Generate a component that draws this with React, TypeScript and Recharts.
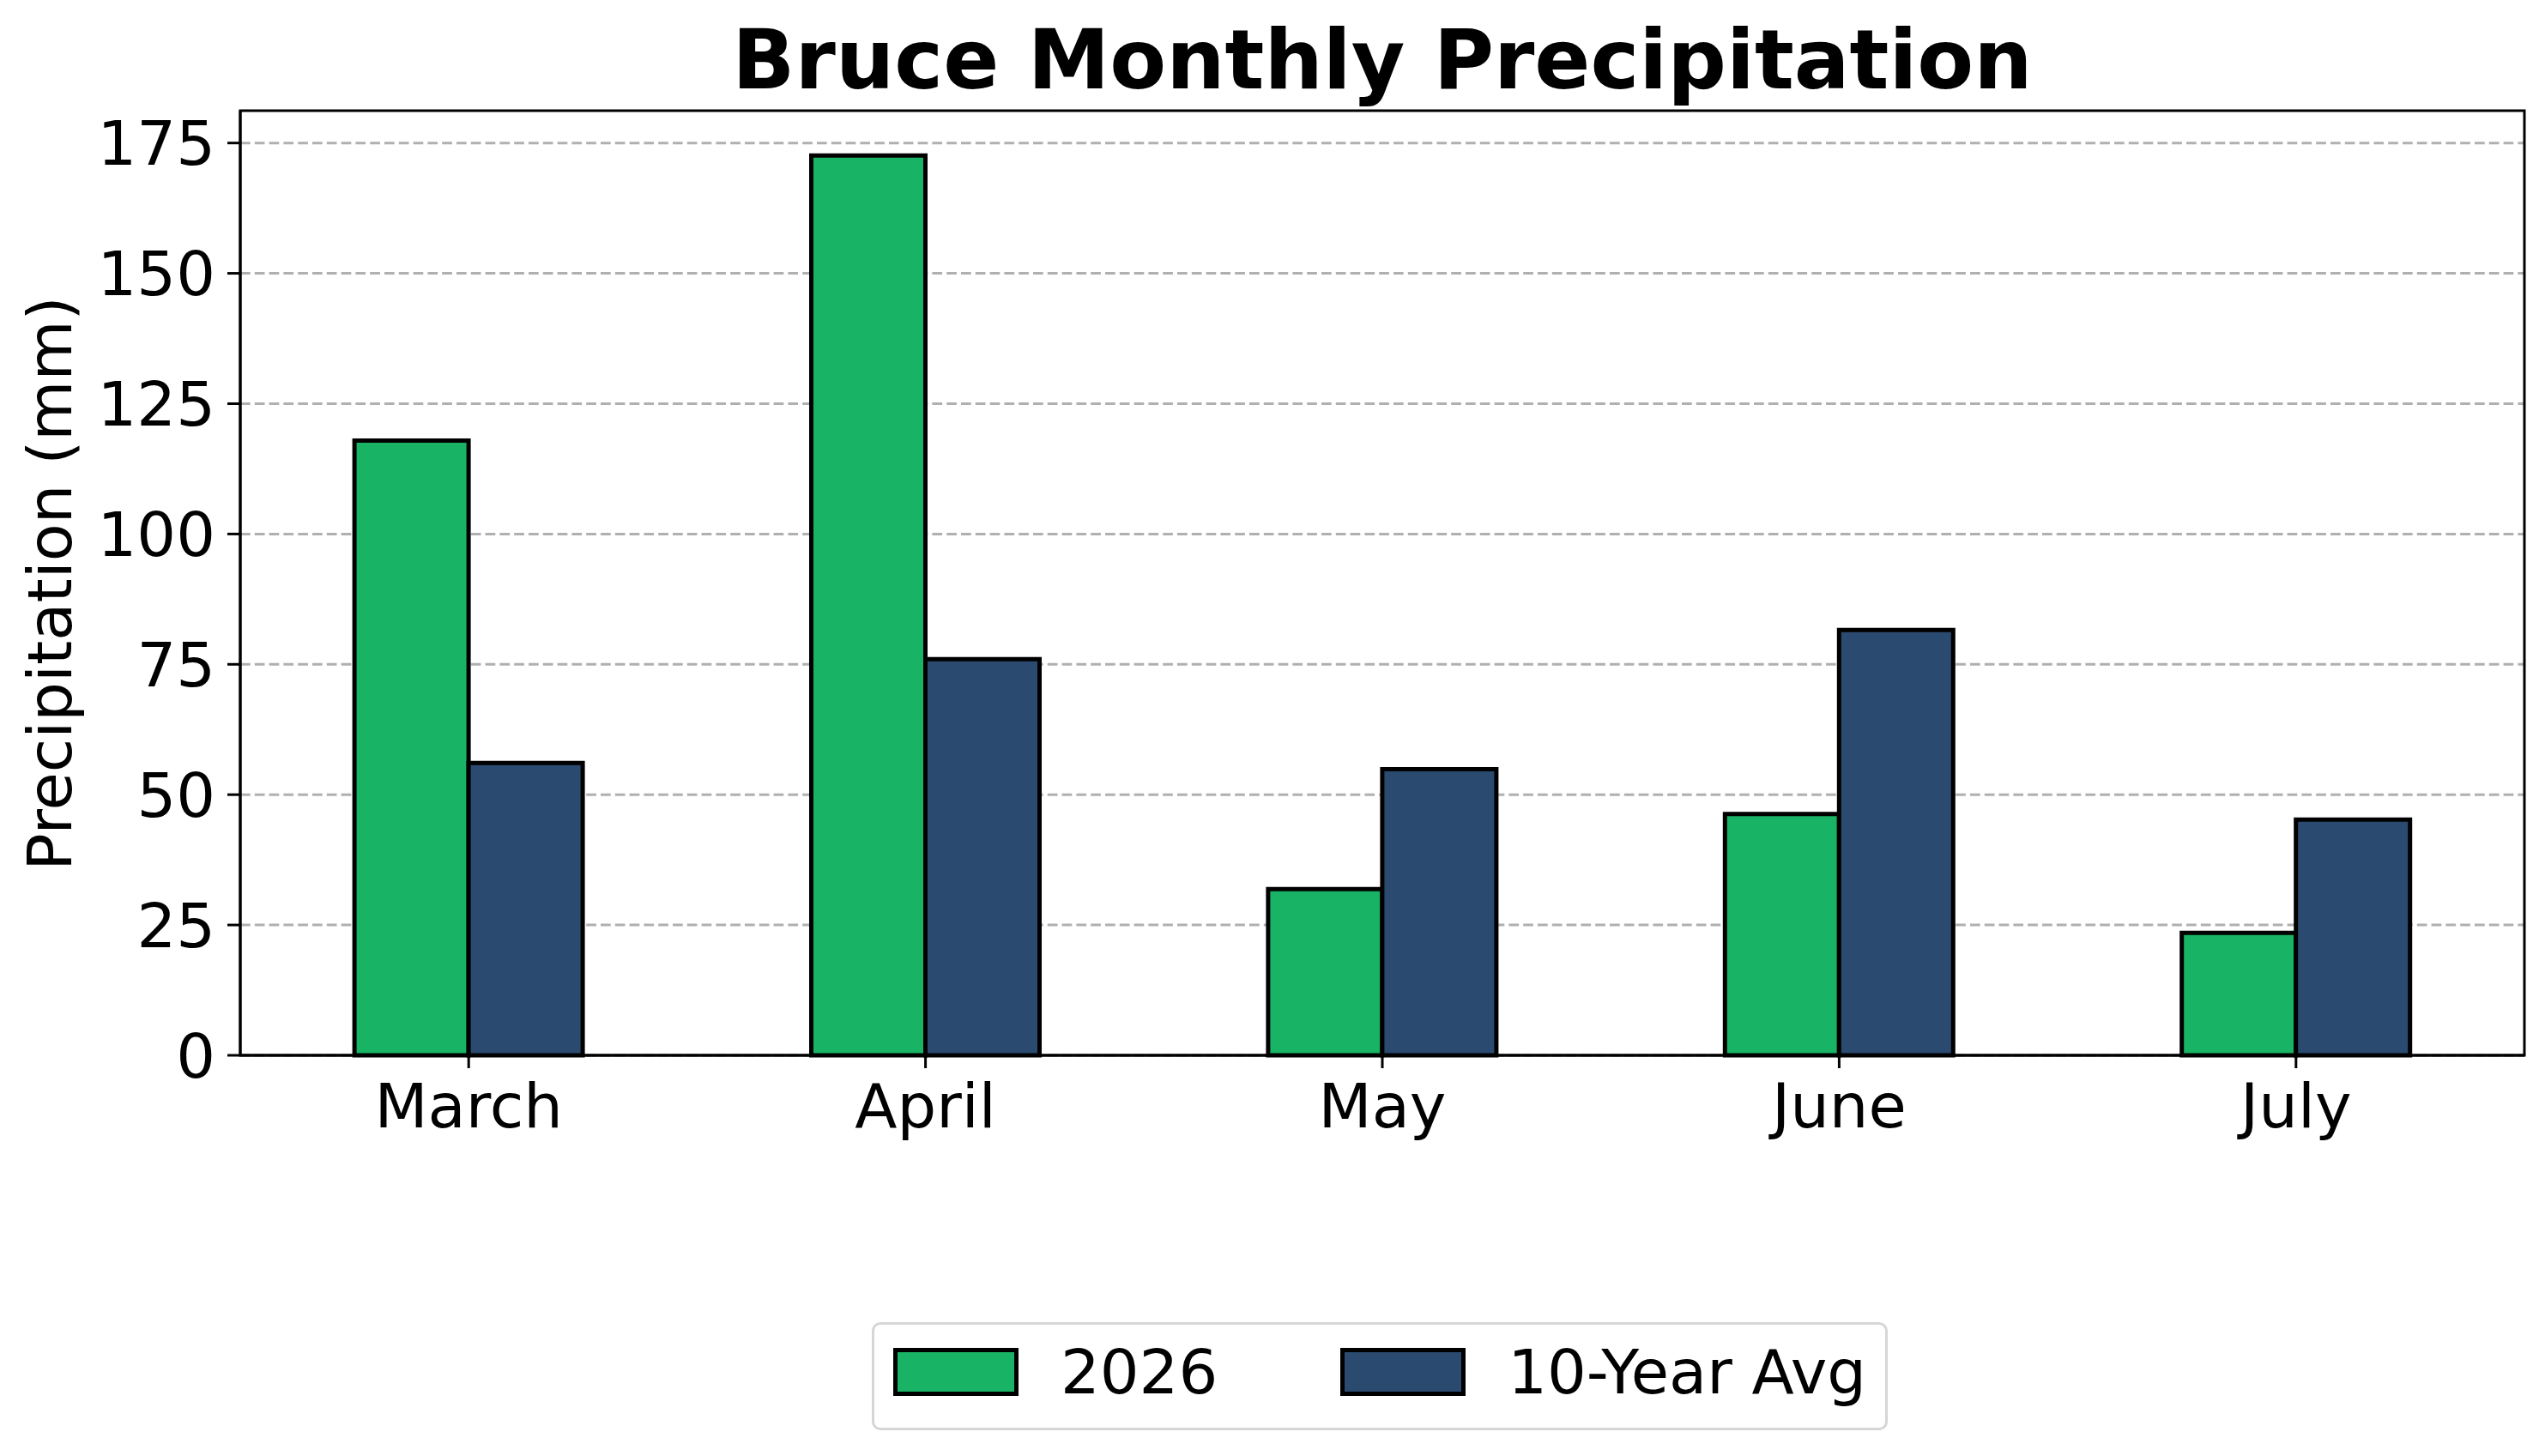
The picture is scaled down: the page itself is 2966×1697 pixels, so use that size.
import React from 'react';
import { BarChart, Bar, XAxis, YAxis, CartesianGrid, Legend, Label, ReferenceArea } from 'recharts';

const months = ['March', 'April', 'May', 'June', 'July'];
const precip2026 = [117.9, 172.6, 31.9, 46.3, 23.5];
const tenYearAvg = [56.1, 76.0, 54.9, 81.6, 45.2];
const seriesNames = ['2026', '10-Year Avg'];
const yTicks = [0, 25, 50, 75, 100, 125, 150, 175];

const data = months.map((month, i) => ({
  month,
  y2026: precip2026[i],
  avg: tenYearAvg[i],
}));

const FONT = '"DejaVu Sans", sans-serif';
const GREEN = '#19b365';
const NAVY = '#2b4a6f';
const W = 2966;
const H = 1697;
const Y_MAX = 181.2;

const LegendBox = ({ payload }: any) => {
  const items = [...(payload || [])].sort(
    (a: any, b: any) => seriesNames.indexOf(a.value) - seriesNames.indexOf(b.value)
  );
  return (
    <div
      style={{
        boxSizing: 'border-box',
        width: 1184,
        height: 126,
        border: '3px solid #d6d6d6',
        borderRadius: 10,
        background: '#fff',
        display: 'flex',
        alignItems: 'flex-start',
        paddingLeft: 22,
        paddingTop: 27,
        fontFamily: FONT,
        fontSize: 72,
        color: '#000',
      }}
    >
      {items.map((entry: any, i: number) => (
        <div key={entry.value} style={{ display: 'flex', alignItems: 'flex-start', marginRight: i === 0 ? 143 : 0 }}>
          <div
            style={{
              boxSizing: 'border-box',
              width: 146,
              height: 56,
              background: entry.color,
              border: '5px solid #000',
            }}
          />
          <span style={{ marginLeft: 49, marginTop: -8, lineHeight: 1, whiteSpace: 'nowrap' }}>{entry.value}</span>
        </div>
      ))}
    </div>
  );
};

const YLabel = () => (
  <text
    x={83}
    y={680}
    transform="rotate(-90 83 680)"
    textAnchor="middle"
    fontFamily={FONT}
    fontSize={72}
    fill="#000"
  >
    Precipitation (mm)
  </text>
);

const spine = { stroke: '#000', strokeWidth: 3 };
const tickStyle = { fontSize: 72, fill: '#000', fontFamily: FONT };

export default function App() {
  return (
    <div style={{ position: 'absolute', left: 0, top: 0, width: W, height: H, background: '#fff' }}>
      <BarChart
        width={W}
        height={H}
        data={data}
        margin={{ top: 129, right: 24, left: 0, bottom: 0 }}
        barCategoryGap="25%"
        barGap={0}
      >
        <CartesianGrid
          vertical={false}
          syncWithTicks
          stroke="#b0b0b0"
          strokeWidth={3}
          strokeDasharray="11.7 5.1"
        />
        <XAxis
          dataKey="month"
          height={467}
          tick={tickStyle}
          tickSize={15}
          tickMargin={18}
          tickLine={spine}
          axisLine={spine}
          interval={0}
        />
        <YAxis
          type="number"
          domain={[0, Y_MAX]}
          ticks={yTicks}
          width={280}
          tick={tickStyle}
          tickSize={15}
          tickMargin={14}
          tickLine={spine}
          axisLine={spine}
        >
          <Label content={<YLabel />} />
        </YAxis>
        <Legend
          verticalAlign="middle"
          align="center"
          layout="horizontal"
          itemSorter={null as any}
          wrapperStyle={{ left: 1016, top: 1541, width: 1184, height: 126 }}
          content={<LegendBox />}
        />
        <Bar dataKey="y2026" name={seriesNames[0]} fill={GREEN} stroke="#000" strokeWidth={5} isAnimationActive={false} />
        <Bar dataKey="avg" name={seriesNames[1]} fill={NAVY} stroke="#000" strokeWidth={5} isAnimationActive={false} />
        <ReferenceArea y1={0} y2={Y_MAX} fill="none" stroke="#000" strokeWidth={3} ifOverflow="visible" />
      </BarChart>
      <svg width={W} height={140} style={{ position: 'absolute', left: 0, top: 0, pointerEvents: 'none' }}>
        <text x={1611} y={103} textAnchor="middle" fontFamily={FONT} fontWeight="bold" fontSize={96} fill="#000">
          Bruce Monthly Precipitation
        </text>
      </svg>
    </div>
  );
}
